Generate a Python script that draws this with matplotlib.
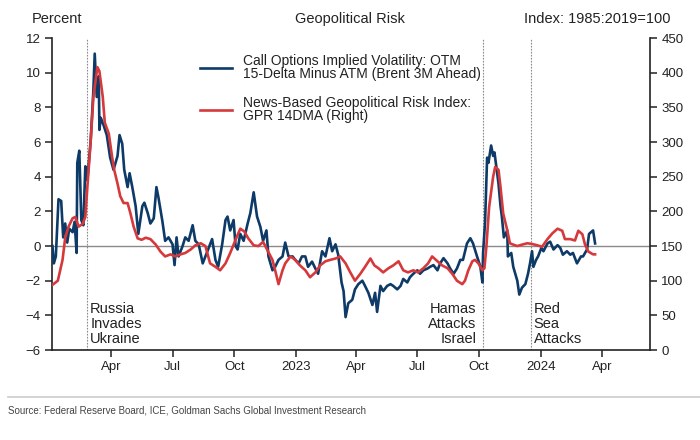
import pandas as pd
import matplotlib
matplotlib.use("Agg")
import matplotlib.pyplot as plt
from matplotlib.lines import Line2D

plt.rcParams['font.family'] = ['Liberation Sans', 'DejaVu Sans']

# call options implied vol: OTM 15-delta minus ATM, percent (left axis)
vol_dates = [
    "2022-01-03", "2022-01-05", "2022-01-08", "2022-01-12", "2022-01-16", "2022-01-19", "2022-01-22",
    "2022-01-25", "2022-01-28", "2022-02-02", "2022-02-05", "2022-02-08", "2022-02-09", "2022-02-12",
    "2022-02-15", "2022-02-18", "2022-02-21", "2022-02-24", "2022-03-01", "2022-03-05", "2022-03-07",
    "2022-03-10", "2022-03-13", "2022-03-14", "2022-03-16", "2022-03-20", "2022-03-25", "2022-03-30",
    "2022-04-04", "2022-04-10", "2022-04-13", "2022-04-17", "2022-04-20", "2022-04-25", "2022-04-28",
    "2022-05-02", "2022-05-07", "2022-05-11", "2022-05-17", "2022-05-20", "2022-05-25", "2022-05-29",
    "2022-06-03", "2022-06-07", "2022-06-10", "2022-06-16", "2022-06-20", "2022-06-25", "2022-07-01",
    "2022-07-04", "2022-07-07", "2022-07-10", "2022-07-16", "2022-07-20", "2022-07-25", "2022-07-31",
    "2022-08-04", "2022-08-09", "2022-08-15", "2022-08-19", "2022-08-23", "2022-08-29", "2022-09-03",
    "2022-09-07", "2022-09-13", "2022-09-18", "2022-09-21", "2022-09-25", "2022-09-30", "2022-10-03",
    "2022-10-06", "2022-10-10", "2022-10-15", "2022-10-21", "2022-10-25", "2022-10-30", "2022-11-04",
    "2022-11-09", "2022-11-13", "2022-11-18", "2022-11-21", "2022-11-27", "2022-12-01", "2022-12-06",
    "2022-12-12", "2022-12-16", "2022-12-21", "2022-12-27", "2022-12-31", "2023-01-05", "2023-01-10",
    "2023-01-15", "2023-01-19", "2023-01-25", "2023-01-30", "2023-02-03", "2023-02-09", "2023-02-14",
    "2023-02-20", "2023-02-24", "2023-03-01", "2023-03-05", "2023-03-10", "2023-03-13", "2023-03-16",
    "2023-03-20", "2023-03-26", "2023-03-30", "2023-04-04", "2023-04-10", "2023-04-14", "2023-04-19",
    "2023-04-25", "2023-04-29", "2023-05-02", "2023-05-07", "2023-05-11", "2023-05-17", "2023-05-22",
    "2023-05-26", "2023-06-01", "2023-06-06", "2023-06-10", "2023-06-16", "2023-06-20", "2023-06-25",
    "2023-07-01", "2023-07-05", "2023-07-10", "2023-07-16", "2023-07-20", "2023-07-25", "2023-07-31",
    "2023-08-04", "2023-08-09", "2023-08-15", "2023-08-19", "2023-08-24", "2023-08-29", "2023-09-03",
    "2023-09-07", "2023-09-13", "2023-09-18", "2023-09-22", "2023-09-28", "2023-10-03", "2023-10-06",
    "2023-10-07", "2023-10-10", "2023-10-13", "2023-10-15", "2023-10-19", "2023-10-22", "2023-10-24",
    "2023-10-27", "2023-10-30", "2023-11-02", "2023-11-04", "2023-11-07", "2023-11-12", "2023-11-13",
    "2023-11-18", "2023-11-21", "2023-11-27", "2023-11-30", "2023-12-04", "2023-12-09", "2023-12-13",
    "2023-12-16", "2023-12-19", "2023-12-21", "2023-12-25", "2023-12-28", "2024-01-02", "2024-01-05",
    "2024-01-11", "2024-01-15", "2024-01-20", "2024-01-26", "2024-01-30", "2024-02-03", "2024-02-09",
    "2024-02-14", "2024-02-18", "2024-02-24", "2024-03-01", "2024-03-04", "2024-03-10", "2024-03-13",
    "2024-03-19", "2024-03-22",
]
vol_values = [
    0.0, -1.0, -0.6, 2.7, 2.6, 0.5, 1.3,
    0.2, 1.0, 0.8, 1.4, -0.4, 4.8, 5.5,
    1.5, 1.2, 4.6, 3.8, 6.1, 9.0, 11.1,
    8.6, 9.8, 6.7, 7.4, 7.0, 6.4, 5.1,
    4.4, 5.2, 6.4, 5.9, 4.4, 3.4, 4.2,
    3.4, 2.3, 0.7, 2.3, 2.5, 1.9, 1.3,
    1.6, 3.4, 2.8, 1.4, 0.3, 0.5, 0.1,
    -1.1, 0.5, -0.6, 0.0, 0.5, 0.3, 1.2,
    0.3, 0.1, -1.0, -0.6, -0.2, 0.4, -0.8,
    -1.2, 0.1, 1.5, 1.7, 0.9, 1.5, 0.0,
    -0.2, 0.7, 0.3, 1.3, 1.9, 3.1, 1.7,
    1.1, 0.3, 0.9, -0.6, -1.4, -1.2, -0.8,
    -0.6, 0.2, -0.6, -0.6, -0.8, -1.0, -0.6,
    -0.6, -1.2, -0.9, -1.3, -1.6, -0.3, -0.6,
    0.45, -0.3, 0.1, -0.5, -2.1, -2.6, -4.1,
    -3.3, -3.1, -2.5, -2.2, -2.0, -2.3, -2.7,
    -3.4, -2.7, -3.8, -2.3, -2.6, -2.3, -2.2,
    -2.3, -2.5, -2.3, -1.9, -2.1, -1.8, -1.6,
    -1.4, -1.6, -1.4, -1.3, -1.2, -1.1, -1.4,
    -1.0, -0.7, -1.0, -1.3, -1.6, -1.3, -0.8,
    -0.8, 0.15, 0.45, 0.15, -0.6, -1.2, -2.1,
    -0.4, 1.4, 5.1, 4.8, 5.8, 5.2, 5.4,
    4.5, 3.6, 2.3, 1.7, 0.5, 0.9, -0.6,
    -0.4, -1.2, -2.0, -2.8, -2.4, -2.2, -1.6,
    -1.0, -0.3, -1.2, -0.8, -0.6, -0.1, -0.3,
    0.15, 0.25, -0.2, 0.05, -0.1, -0.5, -0.3,
    -0.5, -0.4, -1.0, -0.6, -0.6, -0.2, 0.7,
    0.9, 0.15,
]

# news-based geopolitical risk index, GPR 14DMA (right axis)
gpr_dates = [
    "2022-01-03", "2022-01-11", "2022-01-18", "2022-01-22", "2022-01-27", "2022-02-02", "2022-02-06",
    "2022-02-11", "2022-02-17", "2022-02-21", "2022-02-24", "2022-03-01", "2022-03-05", "2022-03-11",
    "2022-03-14", "2022-03-19", "2022-03-22", "2022-03-28", "2022-04-02", "2022-04-05", "2022-04-10",
    "2022-04-14", "2022-04-19", "2022-04-25", "2022-04-29", "2022-05-04", "2022-05-10", "2022-05-16",
    "2022-05-22", "2022-05-29", "2022-06-06", "2022-06-13", "2022-06-20", "2022-06-28", "2022-07-05",
    "2022-07-13", "2022-07-20", "2022-07-28", "2022-08-04", "2022-08-12", "2022-08-19", "2022-08-26",
    "2022-09-03", "2022-09-10", "2022-09-18", "2022-09-25", "2022-10-03", "2022-10-10", "2022-10-16",
    "2022-10-22", "2022-10-30", "2022-11-06", "2022-11-13", "2022-11-19", "2022-11-27", "2022-12-01",
    "2022-12-06", "2022-12-12", "2022-12-16", "2022-12-24", "2022-12-31", "2023-01-07", "2023-01-15",
    "2023-01-22", "2023-01-30", "2023-02-06", "2023-02-14", "2023-02-21", "2023-03-01", "2023-03-08",
    "2023-03-16", "2023-03-23", "2023-03-30", "2023-04-07", "2023-04-14", "2023-04-22", "2023-04-28",
    "2023-05-04", "2023-05-11", "2023-05-19", "2023-05-26", "2023-06-03", "2023-06-10", "2023-06-17",
    "2023-06-25", "2023-07-02", "2023-07-10", "2023-07-17", "2023-07-23", "2023-07-31", "2023-08-07",
    "2023-08-15", "2023-08-22", "2023-08-29", "2023-09-06", "2023-09-10", "2023-09-15", "2023-09-21",
    "2023-09-25", "2023-09-30", "2023-10-06", "2023-10-09", "2023-10-12", "2023-10-16", "2023-10-22",
    "2023-10-25", "2023-10-30", "2023-11-02", "2023-11-06", "2023-11-12", "2023-11-16", "2023-11-21",
    "2023-11-27", "2023-12-04", "2023-12-12", "2023-12-19", "2023-12-27", "2024-01-03", "2024-01-11",
    "2024-01-18", "2024-01-26", "2024-02-02", "2024-02-06", "2024-02-14", "2024-02-21", "2024-02-26",
    "2024-03-03", "2024-03-07", "2024-03-12", "2024-03-19", "2024-03-22",
]
gpr_values = [
    94, 100, 130, 162, 178, 190, 192,
    178, 182, 192, 235, 302, 365, 408,
    402, 365, 328, 312, 278, 260, 240,
    222, 212, 212, 198, 178, 161, 159,
    162, 160, 152, 142, 135, 138, 135,
    138, 140, 145, 151, 154, 150, 125,
    120, 115, 125, 140, 159, 175, 171,
    161, 151, 150, 156, 145, 130, 115,
    95, 115, 125, 135, 130, 122, 115,
    105, 112, 122, 128, 130, 132, 135,
    125, 112, 100, 110, 120, 132, 122,
    118, 112, 118, 122, 128, 115, 112,
    115, 112, 118, 125, 135, 128, 122,
    118, 110, 100, 95, 100, 115, 128,
    130, 125, 115, 118, 150, 206, 250,
    264, 260, 235, 197, 173, 154, 152,
    150, 152, 154, 153, 151, 149, 160,
    168, 175, 172, 160, 160, 158, 172,
    167, 152, 142, 138, 138,
]

event_dates = ["2022-02-24", "2023-10-07", "2023-12-17"]
event_labels = ["Russia\nInvades\nUkraine", "Hamas\nAttacks\nIsrael", "Red\nSea\nAttacks"]
event_sides = ["left", "right", "left"]

tick_dates = ["2022-04-01", "2022-07-01", "2022-10-01", "2023-01-01", "2023-04-01",
              "2023-07-01", "2023-10-01", "2024-01-01", "2024-04-01"]
tick_labels = ["Apr", "Jul", "Oct", "2023", "Apr", "Jul", "Oct", "2024", "Apr"]

blue = "#0e3a68"
red = "#d6393b"
dark = "#222222"

fig = plt.figure(figsize=(7, 4.4), dpi=100)
ax = fig.add_axes([0.074, 0.2045, 0.8547, 0.709])
ax2 = ax.twinx()

ax.axhline(0, color="#8a8a8a", lw=1.0, zorder=1)
for d, lab, side in zip(event_dates, event_labels, event_sides):
    d = pd.Timestamp(d)
    ax.axvline(d, color="#8a8a8a", lw=0.8, ls=(0, (1.5, 1.2)), zorder=1)
    dx = 2 if side == "left" else -5
    ax.annotate(lab, xy=(d, 0), xycoords=("data", "axes fraction"),
                xytext=(dx, 3), textcoords="offset points", ha=side, va="bottom",
                fontsize=10.5, color=dark, linespacing=1.1)

ax.plot(pd.to_datetime(vol_dates), vol_values, color=blue, lw=1.9, zorder=3)
ax2.plot(pd.to_datetime(gpr_dates), gpr_values, color=red, lw=1.9, zorder=3)

ax.set_ylim(-6, 12)
ax.set_yticks(range(-6, 13, 2))
ax2.set_ylim(0, 450)
ax2.set_yticks(range(0, 451, 50))
ax.set_xlim(pd.Timestamp("2022-01-02"), pd.Timestamp("2024-06-12"))
ax.set_xticks(pd.to_datetime(tick_dates))
ax.set_xticklabels(tick_labels)

for a in (ax, ax2):
    a.spines["top"].set_visible(False)
    for s in a.spines.values():
        s.set_color(dark)
        s.set_linewidth(1.2)
    a.tick_params(direction="out", length=5, width=1.1, color=dark,
                  labelsize=9.5, labelcolor=dark, pad=3)
ax.spines["right"].set_visible(False)
ax2.spines["left"].set_visible(False)
ax2.spines["bottom"].set_visible(False)

handles = [Line2D([], [], color=blue, lw=1.9), Line2D([], [], color=red, lw=1.9)]
labels = ["Call Options Implied Volatility: OTM\n15-Delta Minus ATM (Brent 3M Ahead)",
          "News-Based Geopolitical Risk Index:\nGPR 14DMA (Right)"]
leg = ax2.legend(handles, labels, loc="upper left", bbox_to_anchor=(0.248, 0.95),
                 frameon=False, fontsize=10, handlelength=2.3, handletextpad=0.75,
                 labelspacing=1.05, borderpad=0, borderaxespad=0)
for t in leg.get_texts():
    t.set_linespacing(0.95)
    t.set_color(dark)

fig.text(0.045, 0.957, "Percent", fontsize=10.5, color=dark, va="center", ha="left")
fig.text(0.5, 0.957, "Geopolitical Risk", fontsize=10.5, color=dark, va="center", ha="center")
fig.text(0.958, 0.957, "Index: 1985:2019=100", fontsize=10.5, color=dark, va="center", ha="right")

fig.add_artist(Line2D([0.011, 1.0], [0.098, 0.098], color="#cccccc", lw=1.2))
fig.text(0.011, 0.066, "Source: Federal Reserve Board, ICE, Goldman Sachs Global Investment Research",
         fontsize=7, color="#444444", va="center", ha="left")

fig.savefig("out.png", dpi=100)
